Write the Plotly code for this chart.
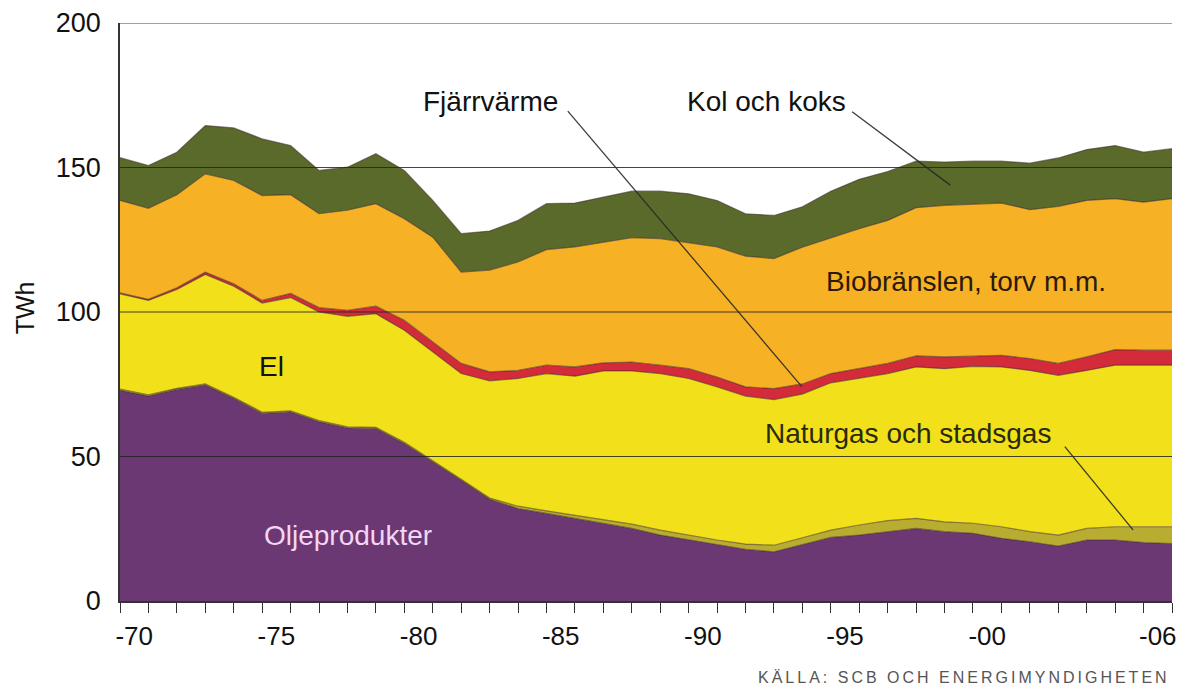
import plotly.graph_objects as go

years = list(range(1970, 2008))
olja = [72.9, 70.9, 73.2, 74.7, 70.1, 64.9, 65.4, 62.0, 59.9, 59.7, 54.5, 48.2, 41.8,
        35.2, 32.0, 30.3, 28.6, 26.9, 25.1, 22.8, 21.1, 19.4, 17.9, 17.0, 19.5, 22.0,
        22.8, 24.0, 25.1, 24.0, 23.4, 21.7, 20.5, 19.0, 21.1, 21.1, 20.2, 19.9]
gas = [0.4, 0.4, 0.4, 0.4, 0.4, 0.4, 0.4, 0.4, 0.4, 0.4, 0.4, 0.4, 0.3,
       0.4, 0.8, 0.9, 1.1, 1.3, 1.5, 1.7, 1.6, 1.7, 1.8, 2.3, 2.4, 2.5,
       3.5, 3.8, 3.5, 3.4, 3.5, 4.0, 3.5, 3.8, 4.0, 4.6, 5.5, 5.8]
el = [33.0, 32.7, 34.2, 37.9, 38.4, 37.8, 39.2, 37.6, 38.2, 39.3, 38.8, 37.6, 36.6,
      40.6, 44.2, 47.5, 48.1, 51.4, 53.0, 54.2, 54.3, 53.0, 51.2, 50.4, 49.7, 51.0,
      50.7, 50.9, 52.4, 53.0, 54.3, 55.3, 55.8, 55.3, 54.7, 55.9, 55.9, 55.9]
fjv = [0.3, 0.4, 0.6, 0.8, 0.9, 0.9, 1.4, 1.5, 2.1, 2.6, 3.4, 3.4, 3.5,
       3.1, 2.8, 2.9, 3.2, 2.8, 3.1, 2.9, 3.4, 3.4, 3.2, 3.8, 3.5, 3.2,
       3.4, 3.5, 3.8, 4.1, 3.5, 4.0, 4.1, 4.1, 4.7, 5.4, 5.2, 5.2]
bio = [32.0, 31.5, 32.2, 34.0, 35.7, 36.3, 34.2, 32.5, 34.6, 35.5, 35.2, 36.3, 31.6,
       35.2, 37.5, 40.0, 41.5, 41.8, 43.0, 43.8, 43.5, 45.0, 45.2, 45.0, 47.3, 46.9,
       48.4, 49.5, 51.3, 52.4, 52.5, 52.7, 51.5, 54.3, 54.1, 52.2, 51.2, 52.4]
kol = [14.8, 14.8, 14.7, 16.7, 18.2, 19.6, 17.0, 15.0, 14.9, 17.3, 16.7, 12.7, 13.3,
       13.5, 14.4, 15.9, 15.2, 15.6, 16.1, 16.4, 17.0, 16.1, 14.7, 14.9, 14.0, 16.2,
       17.1, 16.9, 16.1, 15.0, 15.0, 14.5, 16.1, 16.8, 17.6, 18.4, 17.3, 17.3]

series_names = ["Oljeprodukter", "Naturgas och stadsgas", "El", "Fjärrvärme",
                "Biobränslen, torv m.m.", "Kol och koks"]
series_values = [olja, gas, el, fjv, bio, kol]
colors = ["#6b3873", "#b8ad30", "#f2e11a", "#d42b3b", "#f6b125", "#5a6a2b"]

tick_years = [1970, 1975, 1980, 1985, 1990, 1995, 2000, 2006]
tick_labels = ["-70", "-75", "-80", "-85", "-90", "-95", "-00", "-06"]
y_ticks = [0, 50, 100, 150, 200]

FONT = "Liberation Sans, Arial, Helvetica, sans-serif"

fig = go.Figure()
for name, vals, col in zip(series_names, series_values, colors):
    fig.add_trace(go.Scatter(
        x=years, y=vals, name=name, mode="lines", stackgroup="one",
        fillcolor=col, line=dict(color="rgba(60,40,35,0.55)", width=1.2),
        hoverinfo="x+y+name"))

# gridlines drawn above the areas
for v in y_ticks[1:]:
    fig.add_shape(type="line", xref="paper", x0=0, x1=1, yref="y", y0=v, y1=v,
                  line=dict(color="rgba(35,35,35,0.85)", width=1.2), layer="above")

# leader lines
leaders = [
    ((1985.75, 169.5), (1993.98, 74.2)),
    ((1995.75, 169.3), (1999.2, 143.9)),
    ((2003.23, 53.4), (2005.63, 24.6)),
]
for (xa, ya), (xb, yb) in leaders:
    fig.add_shape(type="line", xref="x", yref="y", x0=xa, y0=ya, x1=xb, y1=yb,
                  line=dict(color="rgba(40,40,40,0.9)", width=1.3), layer="above")

labels = [
    ("Fjärrvärme", 1983.02, 173.0, "#111111"),
    ("Kol och koks", 1992.74, 173.0, "#111111"),
    ("Biobränslen, torv m.m.", 1999.74, 110.7, "#2a1a0a"),
    ("El", 1975.33, 81.0, "#111111"),
    ("Naturgas och stadsgas", 1997.71, 58.1, "#2a2a0a"),
    ("Oljeprodukter", 1978.03, 22.8, "#f3d6f3"),
]
for txt, xv, yv, c in labels:
    fig.add_annotation(x=xv, y=yv, xref="x", yref="y", text=txt, showarrow=False,
                       font=dict(family=FONT, size=28, color=c),
                       xanchor="center", yanchor="middle")

fig.add_annotation(x=-0.09, y=0.507, xref="paper", yref="paper", text="TWh",
                   textangle=-90, showarrow=False,
                   font=dict(family=FONT, size=25, color="#111111"),
                   xanchor="center", yanchor="middle")

fig.add_annotation(x=1.0, y=-0.133, xref="paper", yref="paper",
                   text='<span style="letter-spacing:3px">KÄLLA: SCB OCH ENERGIMYNDIGHETEN</span>',
                   showarrow=False,
                   font=dict(family=FONT, size=16, color="#555555"),
                   xanchor="right", yanchor="middle")

fig.update_layout(
    width=1184, height=692,
    margin=dict(l=119.5, r=12, t=23, b=91, autoexpand=False),
    paper_bgcolor="white", plot_bgcolor="white",
    showlegend=False,
    font=dict(family=FONT, size=26, color="#111111"),
    xaxis=dict(
        range=[1970, 2007], showgrid=False, zeroline=False, automargin=False,
        tickmode="array", tickvals=[t + 0.5 for t in tick_years], ticktext=tick_labels,
        ticks="outside", ticklen=11, tickcolor="rgba(0,0,0,0)",
        tickfont=dict(family=FONT, size=26, color="#111111"),
        showline=True, linecolor="#333333", linewidth=1.5,
        minor=dict(tickmode="linear", tick0=1970, dtick=1, ticks="outside",
                   ticklen=10, tickwidth=1.3, tickcolor="#333333", showgrid=False),
    ),
    yaxis=dict(
        range=[0, 200], showgrid=False, zeroline=False, automargin=False,
        tickmode="array", tickvals=y_ticks, ticktext=[str(v) for v in y_ticks],
        ticks="outside", ticklen=12, tickcolor="rgba(0,0,0,0)",
        tickfont=dict(family=FONT, size=27, color="#111111"),
        showline=True, linecolor="#333333", linewidth=1.5,
    ),
)

fig.write_html("out.html", config={"displayModeBar": False},
               post_script="document.body.style.margin='0';document.body.style.overflow='hidden';")
